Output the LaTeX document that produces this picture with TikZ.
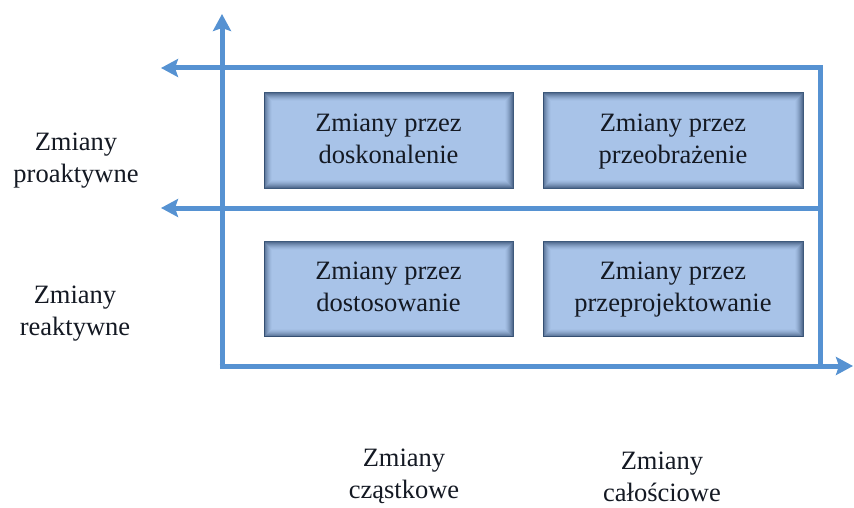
\documentclass[tikz,border=0pt]{standalone}
\usepackage{fontspec}
\setmainfont{Liberation Serif}
\usetikzlibrary{arrows.meta}
\definecolor{axisblue}{RGB}{86,146,210}
\definecolor{boxfill}{RGB}{168,195,232}
\definecolor{boxedge}{RGB}{62,90,124}
\definecolor{boxshade}{RGB}{50,75,110}
\definecolor{txt}{RGB}{20,25,35}
\tikzset{
  axis/.style={draw=axisblue, line width=5pt, line join=miter,
    -{Stealth[length=17pt,width=18pt,inset=3pt]}},
  axisline/.style={draw=axisblue, line width=5pt, line join=miter},
  cell/.style={draw=boxedge, line width=1pt, fill=boxfill, minimum height=95pt,
    inner sep=0pt, align=center, text=txt,
    font=\fontsize{26.5}{33}\selectfont},
  narrowcell/.style={cell, minimum width=249pt},
  widecell/.style={cell, minimum width=260pt},
  label/.style={align=center, text=txt, inner sep=0pt,
    font=\fontsize{26.5}{32}\selectfont}
}
\begin{document}
\begin{tikzpicture}[x=1pt,y=-1pt]
  \useasboundingbox[fill=white] (0,0) rectangle (854,508);

  % axes and frame
  \coordinate (o)    at (222,366);
  \coordinate (ytip) at (222,14);
  \coordinate (xtip) at (853,366);
  \coordinate (br)   at (820,366);
  \coordinate (tr)   at (820,68);
  \coordinate (tl)   at (161,68);
  \coordinate (mr)   at (820,208);
  \coordinate (ml)   at (161,208);

  \draw[axisline] (br) -- (tr) -- ([xshift=-2pt]tr);
  \draw[axis] ([xshift=2pt]tr) -- (tl);
  \draw[axis] (mr) -- (ml);
  \draw[axis] ([yshift=-2.5pt]o) -- (ytip);
  \draw[axis] ([xshift=-2.5pt]o) -- (xtip);

  % the four cells
  \node[narrowcell] (b1) at (388.5,140.5) {\raisebox{5pt}{\begin{tabular}{@{}c@{}}Zmiany przez\\[-1pt]doskonalenie\end{tabular}}};
  \node[widecell]   (b2) at (673,140.5)   {\raisebox{5pt}{\begin{tabular}{@{}c@{}}Zmiany przez\\[-1pt]przeobrażenie\end{tabular}}};
  \node[narrowcell] (b3) at (388.5,289)   {\raisebox{7pt}{\begin{tabular}{@{}c@{}}Zmiany przez\\[-1pt]dostosowanie\end{tabular}}};
  \node[widecell]   (b4) at (673,289)     {\raisebox{7pt}{\begin{tabular}{@{}c@{}}Zmiany przez\\[-1pt]przeprojektowanie\end{tabular}}};

  % inner shadow along the cell borders
  \foreach \n in {b1,b2,b3,b4}{
    \foreach \i in {1,...,8}{
      \pgfmathsetmacro{\op}{0.7*((9-\i)/8)^1.5}
      \draw[boxshade, line width=1pt, opacity=\op]
        ([shift={(\i,\i)}]\n.north west) rectangle ([shift={(-\i,-\i)}]\n.south east);
    }
  }

  % axis labels
  \node[label] (pro) at (76,161) {Zmiany\\proaktywne};
  \node[label] (rea) at (75,314) {Zmiany\\reaktywne};
  \node[label] (czq) at (404,476) {Zmiany\\cząstkowe};
  \node[label] (cal) at (662,477) {Zmiany\\całościowe};
\end{tikzpicture}
\end{document}
